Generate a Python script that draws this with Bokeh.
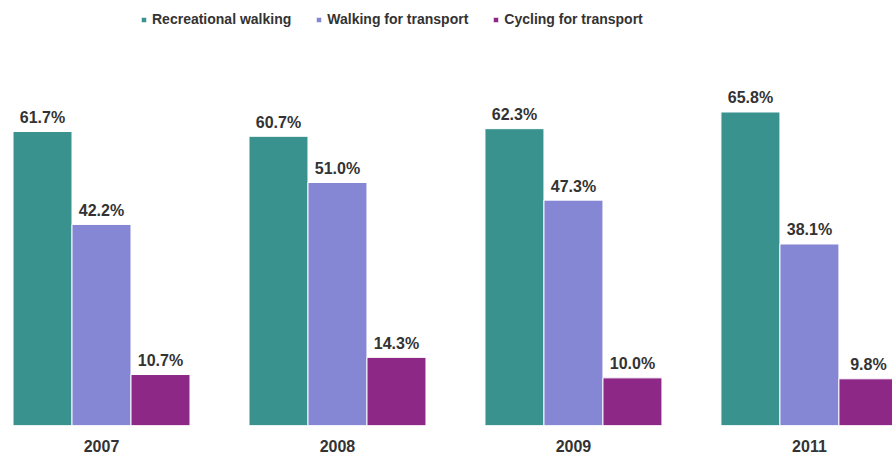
from bokeh.plotting import figure
from bokeh.models import ColumnDataSource, FixedTicker, Legend, LegendItem, Range1d
from bokeh.embed import file_html
from bokeh.resources import INLINE
from bokeh.core.properties import value

years = ["2007", "2008", "2009", "2011"]
series = ["Recreational walking", "Walking for transport", "Cycling for transport"]
recreational = [61.7, 60.7, 62.3, 65.8]
walking_transport = [42.2, 51.0, 47.3, 38.1]
cycling_transport = [10.7, 14.3, 10.0, 9.8]
colors = ["#3a928f", "#8687d4", "#8d2887"]

FONT = "Liberation Sans"
TXT = "#333333"

p = figure(width=892, height=456, output_backend="svg", toolbar_location=None,
           x_range=Range1d(-0.428, 3.352), y_range=Range1d(0, 89.2),
           min_border_left=0, min_border_right=0, min_border_top=0, min_border_bottom=31)
p.outline_line_color = None
p.grid.visible = False
p.yaxis.visible = False
p.background_fill_color = "white"
p.border_fill_color = "white"

offsets = [-0.25, 0.0, 0.25]
all_vals = [recreational, walking_transport, cycling_transport]
items = []
for vals, off, col, name in zip(all_vals, offsets, colors, series):
    xs = [i + off for i in range(len(years))]
    src = ColumnDataSource(dict(x=xs, top=vals, lab=[f"{v:.1f}%" for v in vals]))
    r = p.vbar(x="x", top="top", width=0.25, bottom=0, source=src,
               fill_color=col, line_color="white", line_width=1)
    p.text(x="x", y="top", text="lab", source=src, text_align="center",
           text_baseline="alphabetic", y_offset=-14, text_font=value(FONT),
           text_font_style="bold", text_font_size="16px", text_color=TXT)
    items.append(LegendItem(label=name, renderers=[r]))

legend = Legend(items=items, orientation="horizontal", location=(140, 398),
                border_line_color=None, background_fill_alpha=0,
                label_text_font=FONT, label_text_font_style="bold",
                label_text_font_size="14px", label_text_color=TXT,
                glyph_width=7, glyph_height=7, label_standoff=5, spacing=24,
                padding=0, margin=0)
p.add_layout(legend, "center")

ax = p.xaxis[0]
ax.ticker = FixedTicker(ticks=list(range(len(years))))
ax.major_label_overrides = {i: y for i, y in enumerate(years)}
ax.axis_line_color = None
ax.major_tick_line_color = None
ax.minor_tick_line_color = None
ax.major_label_standoff = 8
ax.major_label_text_font = FONT
ax.major_label_text_font_style = "bold"
ax.major_label_text_font_size = "16px"
ax.major_label_text_color = TXT

open("out.html", "w").write(file_html(p, INLINE))
